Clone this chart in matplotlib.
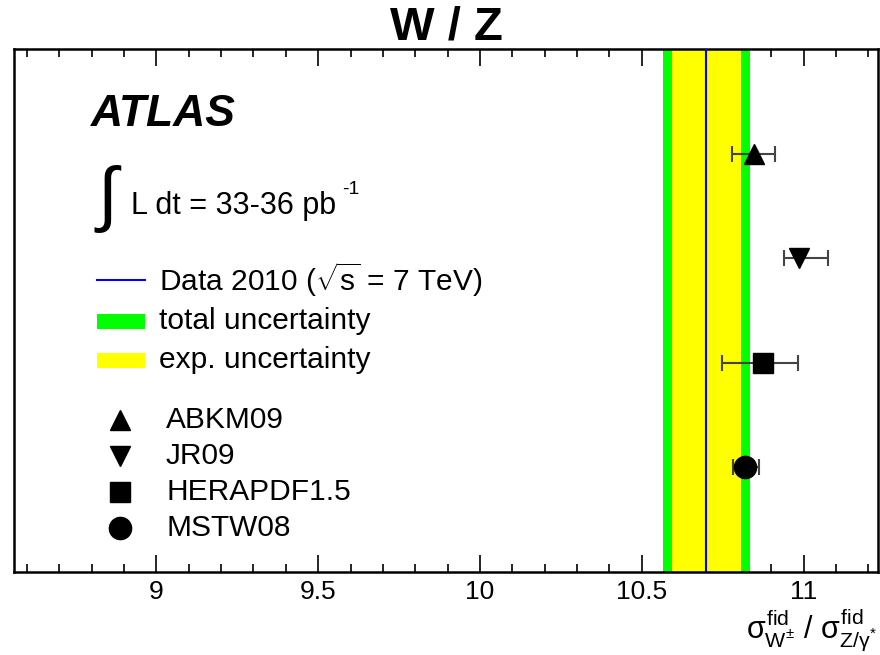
import numpy as np
import matplotlib
matplotlib.use("Agg")
import matplotlib.pyplot as plt
from matplotlib.patches import Rectangle
from matplotlib.ticker import MultipleLocator

plt.rcParams['font.family'] = ['Liberation Sans', 'DejaVu Sans']
plt.rcParams['mathtext.fontset'] = 'custom'
plt.rcParams['mathtext.rm'] = 'Liberation Sans'
plt.rcParams['mathtext.it'] = 'Liberation Sans'
plt.rcParams['mathtext.bf'] = 'Liberation Sans:bold'

# measured W/Z fiducial cross-section ratio
data_ratio = 10.70
exp_unc = 0.108
tot_unc = 0.133

# theory predictions for the different PDF sets
pdf_names = ['ABKM09', 'JR09', 'HERAPDF1.5', 'MSTW08']
pdf_markers = ['^', 'v', 's', 'o']
pdf_ratio = np.array([10.846, 10.987, 10.876, 10.820])
pdf_low = np.array([10.780, 10.938, 10.748, 10.781])
pdf_high = np.array([10.912, 11.074, 10.982, 10.863])
marker_size = {'^': 15, 'v': 15, 's': 14, 'o': 16}

xmin, xmax = 8.56, 11.23

W, H = 880, 655
fig = plt.figure(figsize=(W / 100, H / 100), dpi=100)
ax_left, ax_right, ax_top, ax_bottom = 14, 878, 49, 572
ax = fig.add_axes([ax_left / W, 1 - ax_bottom / H, (ax_right - ax_left) / W, (ax_bottom - ax_top) / H])


def pos(px, py):
    # pixel position -> axes fraction
    return (px - ax_left) / (ax_right - ax_left), (ax_bottom - py) / (ax_bottom - ax_top)


# uncertainty bands and central value
ax.axvspan(data_ratio - tot_unc, data_ratio + tot_unc, color='#00ff00', lw=0, zorder=1)
ax.axvspan(data_ratio - exp_unc, data_ratio + exp_unc, color='#ffff00', lw=0, zorder=2)
ax.axvline(data_ratio, color='#0000ff', lw=1.5, zorder=3)

# predictions
ypos = np.arange(len(pdf_names), 0, -1)
for i in range(len(pdf_names)):
    err = [[pdf_ratio[i] - pdf_low[i]], [pdf_high[i] - pdf_ratio[i]]]
    ax.errorbar(pdf_ratio[i], ypos[i], xerr=err, fmt='none', ecolor='#444444',
                elinewidth=1.5, capsize=6, capthick=1.5, zorder=4)
    ax.plot(pdf_ratio[i], ypos[i], marker=pdf_markers[i], color='black',
            ms=marker_size[pdf_markers[i]], ls='none', zorder=5)

ax.set_xlim(xmin, xmax)
ax.set_ylim(0, 5)
ax.set_yticks([])
ax.xaxis.set_major_locator(MultipleLocator(0.5))
ax.xaxis.set_minor_locator(MultipleLocator(0.1))
ax.tick_params(axis='x', which='major', direction='in', length=12, width=1.2, top=True,
               labelsize=19, pad=6)
ax.tick_params(axis='x', which='minor', direction='in', length=6, width=1.2, top=True)
for s in ax.spines.values():
    s.set_linewidth(1.8)
ax.set_xticklabels([('%g' % t) for t in ax.get_xticks()])

ax.set_title('W / Z', fontsize=34, fontweight='bold', pad=4)

fig.text(877 / W, 1 - 653 / H,
         r'$\sigma^{\mathrm{fid}}_{\mathrm{W}^{\pm}}$ / $\sigma^{\mathrm{fid}}_{\mathrm{Z}/\gamma^{*}}$',
         fontsize=22, ha='right', va='bottom')

# ATLAS label and luminosity
tr = ax.transAxes
ax.text(*pos(91, 114), 'ATLAS', fontsize=32, fontweight='bold', style='italic',
        transform=tr, va='center', ha='left')
ax.text(*pos(94, 199), r'$\int$', fontsize=52, transform=tr, va='center', ha='left')
ax.text(*pos(131, 206), 'L dt = 33-36 pb', fontsize=22, transform=tr, va='center', ha='left')
ax.text(*pos(342, 189), '-1', fontsize=14, transform=tr, va='center', ha='left')

# legend for data and bands
ax.plot([pos(97, 0)[0], pos(145, 0)[0]], [pos(0, 280)[1]] * 2, color='#0000ff', lw=1.5, transform=tr)
ax.text(*pos(159, 280), r'Data 2010 ($\sqrt{\mathrm{s}}$ = 7 TeV)', fontsize=21.5, transform=tr,
        va='center', ha='left')
for yc, col, lab in [(321, '#00ff00', 'total uncertainty'), (360, '#ffff00', 'exp. uncertainty')]:
    x0, y0 = pos(97, yc + 7.5)
    x1, y1 = pos(145, yc - 7.5)
    ax.add_patch(Rectangle((x0, y0), x1 - x0, y1 - y0, color=col, lw=0, transform=tr))
    ax.text(*pos(159, yc), lab, fontsize=21.5, transform=tr, va='center', ha='left')

# legend for PDF sets
leg_y = [420, 456, 492, 528]
for i in range(len(pdf_names)):
    ax.plot(*pos(120, leg_y[i]), marker=pdf_markers[i], color='black',
            ms=marker_size[pdf_markers[i]], ls='none', transform=tr)
    ax.text(*pos(166, leg_y[i]), pdf_names[i], fontsize=21.5, transform=tr, va='center', ha='left')

fig.savefig('out.png', dpi=100)
